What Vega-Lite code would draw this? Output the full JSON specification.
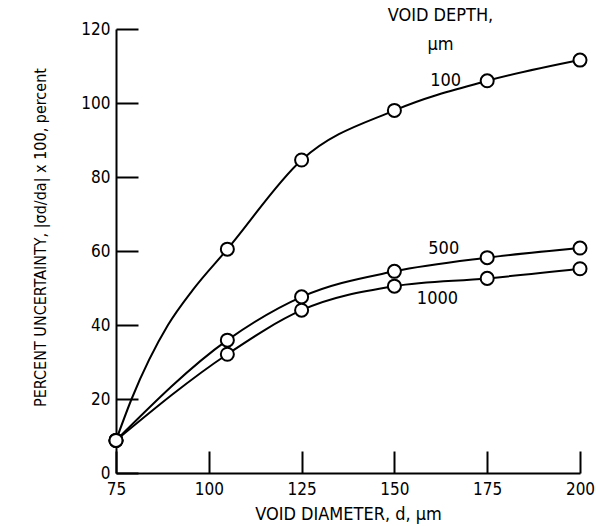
{
  "$schema": "https://vega.github.io/schema/vega-lite/v6.json",
  "width": 464,
  "height": 444,
  "autosize": "none",
  "padding": {"left": 116, "top": 29, "right": 16, "bottom": 53},
  "background": "white",
  "config": {
    "view": {"stroke": null},
    "font": "DejaVu Sans Condensed, sans-serif",
    "axis": {
      "domainColor": "black",
      "domainWidth": 2,
      "tickColor": "black",
      "tickWidth": 2,
      "tickSize": -22,
      "grid": false,
      "labelColor": "black",
      "titleColor": "black",
      "labelFont": "DejaVu Sans Condensed, sans-serif",
      "titleFont": "DejaVu Sans Condensed, sans-serif",
      "labelFontSize": 17,
      "titleFontSize": 18,
      "titleFontWeight": "normal"
    }
  },
  "datasets": {
    "curves": [
      {"depth": "100", "d": 75, "u": 8.8, "kind": "marker"},
      {"depth": "100", "d": 79.2, "u": 20, "kind": "trace"},
      {"depth": "100", "d": 89, "u": 40, "kind": "trace"},
      {"depth": "100", "d": 95.7, "u": 49.5, "kind": "trace"},
      {"depth": "100", "d": 105, "u": 60.5, "kind": "marker"},
      {"depth": "100", "d": 125, "u": 84.6, "kind": "marker"},
      {"depth": "100", "d": 150, "u": 98, "kind": "marker"},
      {"depth": "100", "d": 175, "u": 106, "kind": "marker"},
      {"depth": "100", "d": 200, "u": 111.6, "kind": "marker"},
      {"depth": "500", "d": 75, "u": 8.8, "kind": "marker"},
      {"depth": "500", "d": 105, "u": 35.9, "kind": "marker"},
      {"depth": "500", "d": 125, "u": 47.6, "kind": "marker"},
      {"depth": "500", "d": 150, "u": 54.5, "kind": "marker"},
      {"depth": "500", "d": 175, "u": 58.2, "kind": "marker"},
      {"depth": "500", "d": 200, "u": 60.8, "kind": "marker"},
      {"depth": "1000", "d": 75, "u": 8.8, "kind": "marker"},
      {"depth": "1000", "d": 105, "u": 32.1, "kind": "marker"},
      {"depth": "1000", "d": 125, "u": 44, "kind": "marker"},
      {"depth": "1000", "d": 150, "u": 50.5, "kind": "marker"},
      {"depth": "1000", "d": 175, "u": 52.6, "kind": "marker"},
      {"depth": "1000", "d": 200, "u": 55.2, "kind": "marker"}
    ],
    "labels": [
      {"d": 163.8, "u": 106, "t": "100"},
      {"d": 163.3, "u": 60.5, "t": "500"},
      {"d": 161.6, "u": 47, "t": "1000"},
      {"d": 162.4, "u": 123.5, "t": "VOID DEPTH,"},
      {"d": 162.4, "u": 115.7, "t": "µm"}
    ]
  },
  "layer": [
    {
      "data": {"name": "curves"},
      "mark": {"type": "line", "interpolate": "monotone", "color": "black", "strokeWidth": 2},
      "encoding": {
        "x": {
          "field": "d", "type": "quantitative",
          "scale": {"domain": [75, 200], "nice": false, "zero": false},
          "axis": {"values": [75, 100, 125, 150, 175, 200], "labelFlush": false, "labelPadding": 30, "title": "VOID DIAMETER, d, µm", "titlePadding": 8}
        },
        "y": {
          "field": "u", "type": "quantitative",
          "scale": {"domain": [0, 120], "nice": false},
          "axis": {"values": [0, 20, 40, 60, 80, 100, 120], "labelPadding": 28, "title": "PERCENT UNCERTAINTY, |σd/da| x 100, percent", "titleFontSize": 16, "titlePadding": 32, "titleY": 208}
        },
        "detail": {"field": "depth"}
      }
    },
    {
      "data": {"name": "curves"},
      "transform": [{"filter": "datum.kind === 'marker'"}],
      "mark": {"type": "point", "shape": "circle", "filled": true, "fill": "white", "stroke": "black", "strokeWidth": 2, "size": 170, "opacity": 1},
      "encoding": {
        "x": {"field": "d", "type": "quantitative"},
        "y": {"field": "u", "type": "quantitative"}
      }
    },
    {
      "data": {"name": "labels"},
      "mark": {"type": "text", "fontSize": 18, "color": "black", "clip": false, "font": "DejaVu Sans Condensed, sans-serif"},
      "encoding": {
        "x": {"field": "d", "type": "quantitative"},
        "y": {"field": "u", "type": "quantitative"},
        "text": {"field": "t"}
      }
    }
  ]
}
